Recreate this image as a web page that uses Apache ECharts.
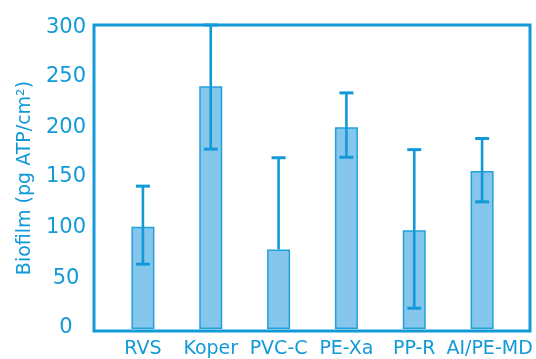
<!DOCTYPE html>
<html>
<head>
<meta charset="utf-8">
<script src="https://cdn.jsdelivr.net/npm/echarts@6/dist/echarts.min.js"></script>
<style>
html,body{margin:0;padding:0;background:#fff;}
#chart{width:536px;height:359px;}
</style>
</head>
<body>
<div id="chart"></div>
<script>
const categories = ['RVS', 'Koper', 'PVC-C', 'PE-Xa', 'PP-R', 'AI/PE-MD'];
const biofilmMean = [101, 239.5, 78.5, 199, 97.5, 156];
const errorLow = [64, 177.5, 78.5, 169.5, 20.5, 125.5];
const errorHigh = [141, 300, 169, 233, 177, 188];
const yTicks = [0, 50, 100, 150, 200, 250, 300];
const yAxisTitle = 'Biofilm (pg ATP/cm²)';

const BLUE = '#129ad8';
const FILL = '#85c6ec';
const FONT = 'DejaVu Sans';

// vertical nudges of the tick labels in px, positive = up (style only)
const labelNudge = [3.5, 1.3, 1, 1, -0.5, -1, -2.5];
const rich = {};
labelNudge.forEach((s, i) => {
  const pad = s >= 0 ? [0, 0, 2 * s, 0] : [-2 * s, 0, 0, 0];
  rich['t' + i] = { fontSize: 21, fontFamily: FONT, color: BLUE, padding: pad };
});

const errData = categories.map((c, i) => [i, errorLow[i], errorHigh[i], biofilmMean[i]]);

const chart = echarts.init(document.getElementById('chart'), null, { renderer: 'canvas' });
chart.setOption({
  animation: false,
  backgroundColor: '#fff',
  grid: [
    { left: 94, right: 6, top: 25, bottom: 28, show: true, borderColor: BLUE, borderWidth: 3, backgroundColor: 'transparent', z: 3 },
    { left: 109, right: 20, top: 25, bottom: 28 }
  ],
  xAxis: [
    { type: 'value', gridIndex: 0, show: false, min: 0, max: 1 },
    {
      type: 'category', gridIndex: 1, data: categories,
      axisLine: { show: false }, axisTick: { show: false },
      axisLabel: {
        margin: 11, fontSize: 19, fontFamily: FONT, color: BLUE, interval: 0,
        formatter: (v, i) => i === categories.length - 1 ? '{s|' + v + '}' : v,
        rich: { s: { fontSize: 19, fontFamily: FONT, color: BLUE, padding: [0, 0, 0, 15] } }
      }
    }
  ],
  yAxis: [
    {
      type: 'value', gridIndex: 0, min: 0, max: 300, interval: 50,
      axisLine: { show: false }, axisTick: { show: false }, splitLine: { show: false },
      axisLabel: {
        margin: 28, align: 'center', fontSize: 21, fontFamily: FONT, color: BLUE,
        formatter: v => '{t' + yTicks.indexOf(v) + '|' + v + '}',
        rich: rich
      },
      name: yAxisTitle, nameLocation: 'middle', nameRotate: 90, nameGap: 50,
      nameTextStyle: { fontSize: 19, fontFamily: FONT, color: BLUE }
    },
    {
      type: 'value', gridIndex: 1, min: 0, max: 300, interval: 50, show: false
    }
  ],
  series: [
    {
      type: 'bar', xAxisIndex: 1, yAxisIndex: 1, data: biofilmMean,
      barWidth: 23,
      itemStyle: { color: FILL, borderColor: '#22a0dc', borderWidth: 1.5 },
      z: 2
    },
    {
      type: 'custom', xAxisIndex: 1, yAxisIndex: 1, data: errData, z: 5,
      renderItem: function (params, api) {
        const idx = api.value(0);
        const lo = api.value(1), hi = api.value(2), mean = api.value(3);
        const pHi = api.coord([idx, hi]);
        const pLo = api.coord([idx, lo]);
        const half = 7;
        const style = { stroke: BLUE, lineWidth: 3 };
        const children = [
          { type: 'line', shape: { x1: pHi[0], y1: pHi[1], x2: pLo[0], y2: pLo[1] }, style: { stroke: BLUE, lineWidth: 2.6 } },
          { type: 'line', shape: { x1: pHi[0] - half, y1: pHi[1], x2: pHi[0] + half, y2: pHi[1] }, style: style }
        ];
        if (lo < mean) {
          children.push({ type: 'line', shape: { x1: pLo[0] - half, y1: pLo[1], x2: pLo[0] + half, y2: pLo[1] }, style: style });
        }
        return { type: 'group', children: children };
      }
    }
  ]
});
</script>
</body>
</html>
